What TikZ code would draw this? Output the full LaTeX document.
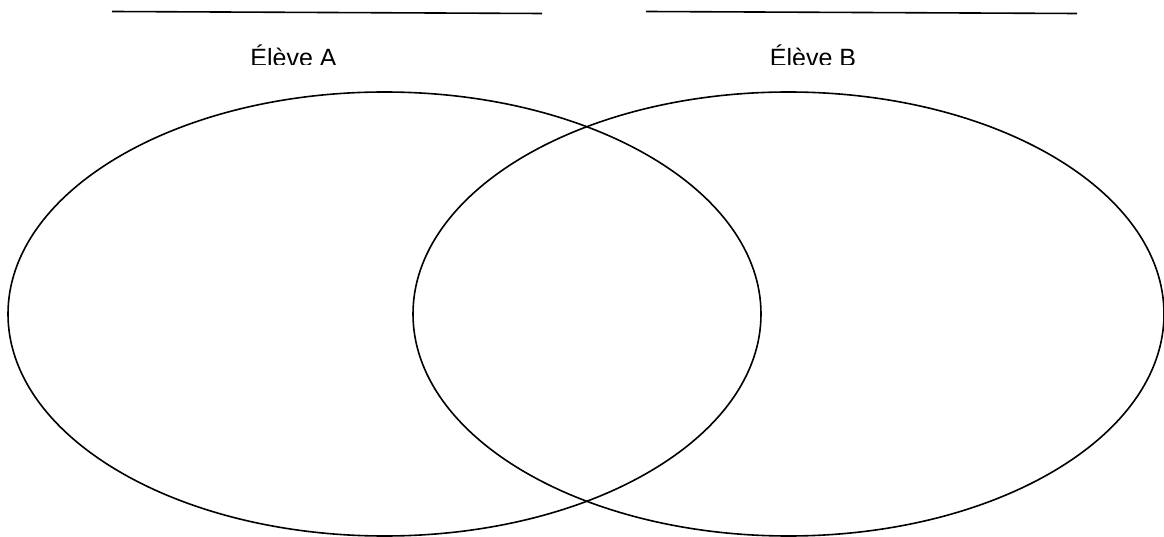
\documentclass[tikz,border=0pt]{standalone}
\usepackage{fontspec}
\setmainfont{Liberation Sans}
\begin{document}
\begin{tikzpicture}[x=1bp,y=-1bp,
  stroke/.style={line width=1.6bp,black},
  lbl/.style={font=\fontsize{25bp}{30bp}\selectfont,anchor=base,inner sep=0pt}]
\useasboundingbox (0,0) rectangle (1164,537);
\coordinate (l1a) at (112,11.5);
\coordinate (l1b) at (542,13.5);
\coordinate (l2a) at (646,11.5);
\coordinate (l2b) at (1077,13.5);
\draw[stroke] (l1a) -- (l1b);
\draw[stroke] (l2a) -- (l2b);
\begin{scope}
\clip (0,0) rectangle (1164,65);
\node[lbl] (ta) at (293.5,67) {Élève A};
\node[lbl] (tb) at (813,67) {Élève B};
\end{scope}
\draw[stroke] (384.5,314) ellipse [x radius=376.5, y radius=222];
\draw[stroke] (788.5,314) ellipse [x radius=375.5, y radius=222];
\end{tikzpicture}
\end{document}
